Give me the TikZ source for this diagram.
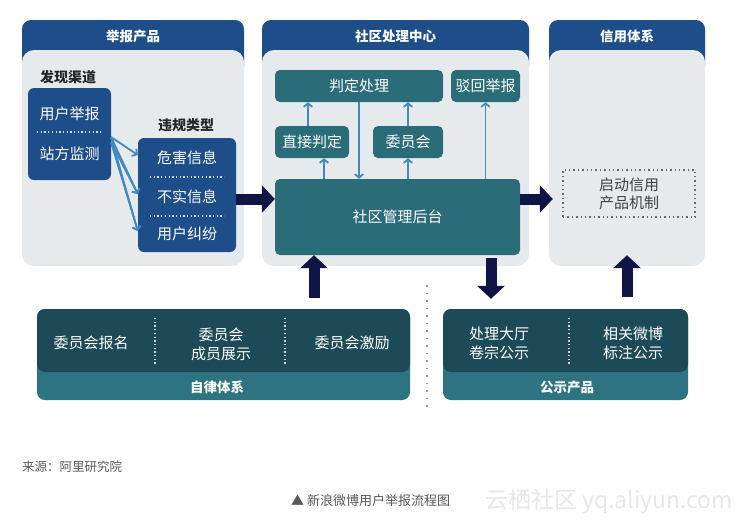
\documentclass[tikz,border=0pt]{standalone}
\usepackage{fontspec}
\setmainfont{Noto Sans CJK SC}
\usetikzlibrary{arrows.meta}

\definecolor{blu}{HTML}{1D4E8A}
\definecolor{grigio}{HTML}{E7EAED}
\definecolor{ottanio}{HTML}{2B6C79}
\definecolor{scuro}{HTML}{1D4A57}
\definecolor{fascia}{HTML}{2E7381}
\definecolor{notte}{HTML}{0F1545}
\definecolor{azzurro}{HTML}{4289C2}

\tikzset{
  corpo/.style={fill=grigio, rounded corners=12pt, inner sep=0pt},
  testata/.style={fill=blu, rounded corners=9pt},
  titolo/.style={text=white, font=\fontsize{13.5}{16}\selectfont\bfseries},
  etichetta/.style={text=black!85, font=\fontsize{14}{16}\selectfont\bfseries},
  scatola/.style={fill=blu, rounded corners=6pt, inner sep=0pt},
  blocco/.style={fill=ottanio, rounded corners=5pt, text=white, inner sep=0pt, font=\fontsize{15}{18}\selectfont},
  pannello/.style={rounded corners=8pt, inner sep=0pt, minimum height=#1},
  voce/.style={text=white, font=\fontsize{15}{19}\selectfont, align=center},
  puntini/.style={white!80!blu, line width=1.3pt, dash pattern=on 1.3pt off 2.4pt},
  fin/.style={azzurro, line width=1.8pt, -{Straight Barb[length=3.5pt,width=8.5pt]}},
  grossa/.style={notte, line width=11pt, -{Triangle[length=13pt,width=27pt]}},
  nota/.style={inner sep=0pt, anchor=west, text=black!65, font=\fontsize{12.5}{14}\selectfont},
}

\begin{document}
\begin{tikzpicture}[x=1pt,y=-1pt]
    \useasboundingbox (0,0) rectangle (738,523);
    \fill[white] (0,0) rectangle (738,523);

    % Riquadro di sinistra: prodotti di segnalazione
    \fill[testata] (22,20) rectangle (244,75);
    \node[corpo, minimum width=222pt, minimum height=216pt] (pSeg) at (133,158) {};
    \node[titolo] (tSeg) at (133,36) {举报产品};

    \node[etichetta] (lCanali) at (68,77) {发现渠道};
    \node[scatola, minimum width=83pt, minimum height=92pt] (canali) at (69.5,134) {};
    \node[voce] (utente) at (69.5,114) {用户举报};
    \node[voce] (sito) at (69.5,154) {站方监测};
    \draw[puntini] (37,132) -- (102,132);

    \node[etichetta] (lTipi) at (186,125) {违规类型};
    \node[scatola, minimum width=98pt, minimum height=114pt] (tipi) at (187,195) {};
    \node[voce] (danno) at (187,158) {危害信息};
    \node[voce] (falso) at (187,197) {不实信息};
    \node[voce] (lite) at (187,234) {用户纠纷};
    \draw[puntini] (150,177) -- (224,177);
    \draw[puntini] (150,216) -- (224,216);

    \coordinate (fonte1) at (111,137);
    \coordinate (fonte2) at (111,142);
    \foreach \v in {danno,falso,lite}
        \draw[fin] (fonte1) -- ([yshift=3pt]tipi.west |- \v);
    \foreach \v in {falso,lite}
        \draw[fin] (fonte2) -- ([yshift=3pt]tipi.west |- \v);

    % Riquadro centrale: centro di gestione della comunita
    \fill[testata] (262,20) rectangle (529,75);
    \node[corpo, minimum width=267pt, minimum height=216pt] (pCom) at (395.5,158) {};
    \node[titolo] (tCom) at (395.5,36) {社区处理中心};

    \node[blocco, minimum width=168pt, minimum height=32pt] (giudizio) at (359,86) {判定处理};
    \node[blocco, minimum width=69pt, minimum height=32pt] (rifiuto) at (485.5,86) {驳回举报};
    \node[blocco, minimum width=74pt, minimum height=32pt] (diretto) at (312,142) {直接判定};
    \node[blocco, minimum width=70pt, minimum height=32pt] (comitato) at (408,142) {委员会};
    \node[blocco, minimum width=245pt, minimum height=76pt] (gestione) at (397.5,217) {社区管理后台};

    \coordinate (xG) at (359,0);
    \draw[fin] ([xshift=-4pt]diretto.north) -- ([xshift=-4pt]diretto.north |- giudizio.south);
    \draw[fin] ([xshift=12pt]diretto.south |- gestione.north) -- ([xshift=12pt]diretto.south);
    \draw[fin] (xG |- giudizio.south) -- (xG |- gestione.north);
    \draw[fin] (comitato.north) -- (comitato.north |- giudizio.south);
    \draw[fin] (comitato.south |- gestione.north) -- (comitato.south);
    \draw[fin] (rifiuto.south |- gestione.north) -- (rifiuto.south);

    % Riquadro di destra: sistema di credito
    \fill[testata] (549,20) rectangle (705,75);
    \node[corpo, minimum width=156pt, minimum height=216pt] (pCre) at (627,158) {};
    \node[titolo] (tCre) at (627,36) {信用体系};
    \node[draw=black!60, line width=1.4pt, dash pattern=on 1.4pt off 3pt,
          minimum width=132pt, minimum height=47pt, align=center, text=black!75,
          font=\fontsize{15}{18}\selectfont] (avvio) at (629,193.5) {启动信用\\产品机制};

    % Frecce principali
    \coordinate (quota) at (0,199);
    \draw[grossa] (tipi.east |- quota) -- (gestione.west |- quota);
    \draw[grossa] (gestione.east |- quota) -- ([xshift=4pt]pCre.west |- quota);

    % Pannelli in basso
    \node[pannello=91pt, fill=fascia, minimum width=373pt] (auto) at (223.5,354.5) {};
    \node[pannello=63pt, fill=scuro, minimum width=373pt] (autoSu) at (223.5,340.5) {};
    \node[voce] (iscrizione) at (91,343) {委员会报名};
    \node[voce] (membri) at (221,344) {委员会\\成员展示};
    \node[voce] (premi) at (352,343) {委员会激励};
    \draw[puntini] (155,318) -- (155,366);
    \draw[puntini] (285,318) -- (285,366);
    \node[titolo] (tAuto) at (217,387) {自律体系};

    \node[pannello=91pt, fill=fascia, minimum width=245pt] (pubblico) at (565.5,354.5) {};
    \node[pannello=63pt, fill=scuro, minimum width=245pt] (pubblicoSu) at (565.5,340.5) {};
    \node[voce] (sala) at (499,343) {处理大厅\\卷宗公示};
    \node[voce] (weibo) at (633,343) {相关微博\\标注公示};
    \draw[puntini] (569,318) -- (569,366);
    \node[titolo] (tPub) at (567,387) {公示产品};

    \coordinate (xA) at (314,0);
    \coordinate (xB) at (491,0);
    \coordinate (xC) at (627,0);
    \draw[grossa, shorten <=11pt] (xA |- auto.north) -- (xA |- gestione.south);
    \draw[grossa, shorten <=3pt, shorten >=10pt] (xB |- gestione.south) -- (xB |- pubblico.north);
    \draw[grossa, shorten <=12pt, shorten >=-11pt] (xC |- pubblico.north) -- (xC |- pCre.south);

    \draw[black!40, line width=1.5pt, dash pattern=on 1.5pt off 6pt] (427,285) -- (427,410);

    % Didascalie
    \node[nota] (fonte) at (22,467) {来源：阿里研究院};
    \node[nota, font=\fontsize{13}{15}\selectfont] (didascalia) at (291,501) {▲ 新浪微博用户举报流程图};
    \node[nota, text=black!9, font=\fontsize{23}{26}\selectfont] (marchio) at (485,501) {云栖社区 yq.aliyun.com};
\end{tikzpicture}
\end{document}
